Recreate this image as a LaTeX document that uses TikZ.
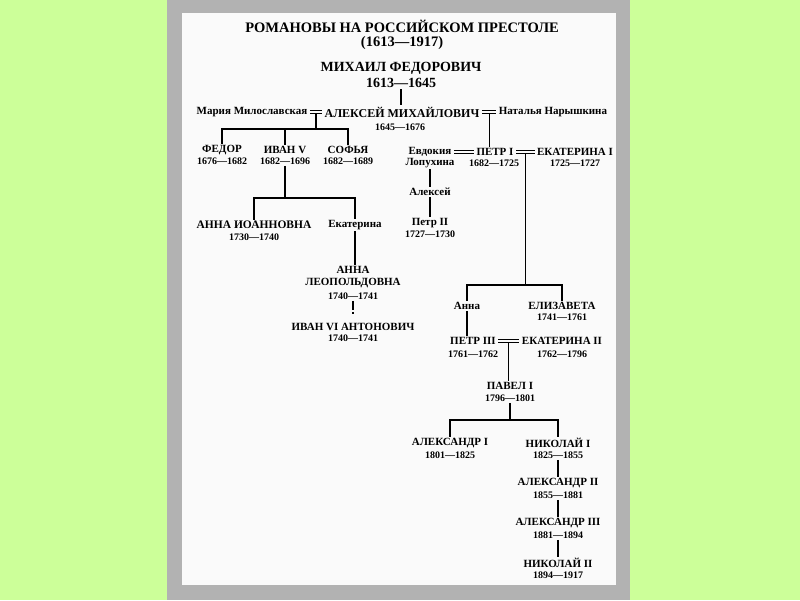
\documentclass[tikz,border=0pt]{standalone}
\usepackage{fontspec}
\setmainfont{Liberation Serif}
\usetikzlibrary{calc}
\definecolor{lightlime}{RGB}{204,255,153}
\definecolor{framegray}{RGB}{178,178,178}
\definecolor{paper}{RGB}{250,250,250}
\begin{document}
\begin{tikzpicture}[x=1pt, y=-1pt,
        title/.style={inner sep=0pt, font=\bfseries\fontsize{14.5}{15}\selectfont},
        ruler/.style={inner sep=1pt, font=\bfseries\fontsize{14}{15}\selectfont},
        royal/.style={inner sep=1pt, font=\bfseries\fontsize{11}{12}\selectfont},
        spouse/.style={inner sep=1pt, font=\bfseries\fontsize{11}{12}\selectfont},
        dates/.style={inner sep=1pt, font=\bfseries\fontsize{10}{11}\selectfont},
        wed/.style={double=paper, double distance=2.2pt, line width=0.8pt, shorten <=1pt, shorten >=1pt},
        line width=1.1pt]
        % Hintergrund und Blatt
        \fill[lightlime] (0,0) rectangle (800,600);
        \fill[framegray] (167,0) rectangle (630,600);
        \fill[paper] (182,13) rectangle (616,585);
        % Titel
        \node[title] (title) at (402,26) {РОМАНОВЫ НА РОССИЙСКОМ ПРЕСТОЛЕ};
        \node[title] (span) at (402,43) {(1613—1917)};
        \node[ruler] (mikhail) at (401,68) {МИХАИЛ ФЕДОРОВИЧ};
        \node[ruler] (mikhaild) at (401,83) {1613—1645};
        % Алексей и жены
        \node[spouse] (maria) at (252,112) {Мария Милославская};
        \node[royal, font=\bfseries\fontsize{12}{13}\selectfont] (alexey) at (402,112) {АЛЕКСЕЙ МИХАЙЛОВИЧ};
        \node[dates] (alexeyd) at (400,127) {1645—1676};
        \node[spouse] (natalya) at (553,112) {Наталья Нарышкина};
        \draw (mikhaild.south) -- (mikhaild.south |- alexey.north);
        \draw[wed] (maria) -- (alexey);
        \draw[wed] (alexey) -- (natalya);
        \coordinate (w1) at ($(maria.east)!.5!(alexey.west)$);
        \coordinate (w2) at ($(alexey.east)!.5!(natalya.west)$);
        % Милославские
        \node[royal] (fedor) at (222,150) {ФЕДОР};
        \node[dates] (fedord) at (222,161) {1676—1682};
        \node[royal] (ivan5) at (285,150) {ИВАН V};
        \node[dates] (ivan5d) at (285,161) {1682—1696};
        \node[royal] (sofia) at (348,150) {СОФЬЯ};
        \node[dates] (sofiad) at (348,161) {1682—1689};
        \draw ($(w1)+(0,2)$) -- (w1 |- 0,129);
        \draw (fedor.north) -- (fedor.north |- 0,129) -- (sofia.north |- 0,129) -- (sofia.north);
        \draw (ivan5.north) -- (ivan5.north |- 0,129);
        \node[royal, font=\bfseries\fontsize{11.5}{12}\selectfont] (annai) at (254,225) {АННА ИОАННОВНА};
        \node[dates] (annaid) at (254,237) {1730—1740};
        \node[spouse] (ekaterina) at (355,225) {Екатерина};
        \draw (ivan5d.south) -- (ivan5d.south |- 0,198);
        \draw (annai.north) -- (annai.north |- 0,198) -- (ekaterina.north |- 0,198) -- (ekaterina.north);
        \node[royal, align=center] (annal) at (353,277) {АННА\\ЛЕОПОЛЬДОВНА};
        \node[dates] (annald) at (353,296) {1740—1741};
        \draw (ekaterina.south) -- (ekaterina.south |- annal.north);
        \node[royal] (ivan6) at (353,327) {ИВАН VI АНТОНОВИЧ};
        \node[dates] (ivan6d) at (353,338) {1740—1741};
        \draw[dash pattern=on 9pt off 2pt on 2pt] (annald.south) -- (annald.south |- ivan6.north);
        % Нарышкины
        \node[spouse] (evdokia) at (430,152) {Евдокия};
        \node[spouse] (lopukhina) at (430,163) {Лопухина};
        \node[royal] (petr1) at (495,152) {ПЕТР I};
        \node[dates] (petr1d) at (494,163) {1682—1725};
        \node[royal] (ekat1) at (575,152) {ЕКАТЕРИНА I};
        \node[dates] (ekat1d) at (575,163) {1725—1727};
        \draw ($(w2)+(0,2)$) -- (w2 |- petr1.north);
        \draw[wed] (evdokia) -- (petr1);
        \draw[wed] (petr1) -- (ekat1);
        \coordinate (w3) at ($(petr1.east)!.5!(ekat1.west)$);
        \node[spouse] (aleksei) at (430,192) {Алексей};
        \node[royal] (petr2) at (430,223) {Петр II};
        \node[dates] (petr2d) at (430,234) {1727—1730};
        \draw (lopukhina.south) -- (aleksei.north);
        \draw (aleksei.south) -- (petr2.north);
        % Петр I и Екатерина I
        \node[spouse] (anna) at (467,306) {Анна};
        \node[royal] (elizaveta) at (562,306) {ЕЛИЗАВЕТА};
        \node[dates] (elizavetad) at (562,317) {1741—1761};
        \draw ($(w3)+(0,2)$) -- (w3 |- 0,285);
        \draw (anna.north) -- (anna.north |- 0,285) -- (elizaveta.north |- 0,285) -- (elizaveta.north);
        \node[royal] (petr3) at (473,341) {ПЕТР III};
        \node[dates] (petr3d) at (473,354) {1761—1762};
        \node[royal] (ekat2) at (562,341) {ЕКАТЕРИНА II};
        \node[dates] (ekat2d) at (562,354) {1762—1796};
        \draw (anna.south) -- (anna.south |- petr3.north);
        \draw[wed] (petr3) -- (ekat2);
        \coordinate (w4) at ($(petr3.east)!.5!(ekat2.west)$);
        \node[royal] (pavel) at (510,386) {ПАВЕЛ I};
        \node[dates] (paveld) at (510,398) {1796—1801};
        \draw ($(w4)+(0,2)$) -- (w4 |- pavel.north);
        % Павел I и потомки
        \node[royal] (alex1) at (450,443) {АЛЕКСАНДР I};
        \node[dates] (alex1d) at (450,455) {1801—1825};
        \draw (paveld.south) -- (paveld.south |- 0,420);
        \draw (alex1.north) -- (alex1.north |- 0,420) -- (558,420) -- (558,437);
        \foreach \who/\yrs/\y in {nik1/1825—1855/443, alex2/1855—1881/483, alex3/1881—1894/523, nik2/1894—1917/563}
            \node[dates] (\who d) at (558,\y+12) {\yrs};
        \node[royal] (nik1) at (558,443) {НИКОЛАЙ I};
        \node[royal] (alex2) at (558,483) {АЛЕКСАНДР II};
        \node[royal] (alex3) at (558,523) {АЛЕКСАНДР III};
        \node[royal] (nik2) at (558,563) {НИКОЛАЙ II};
        \draw (nik1d.south) -- (alex2.north);
        \draw (alex2d.south) -- (alex3.north);
        \draw (alex3d.south) -- (nik2.north);
\end{tikzpicture}
\end{document}
